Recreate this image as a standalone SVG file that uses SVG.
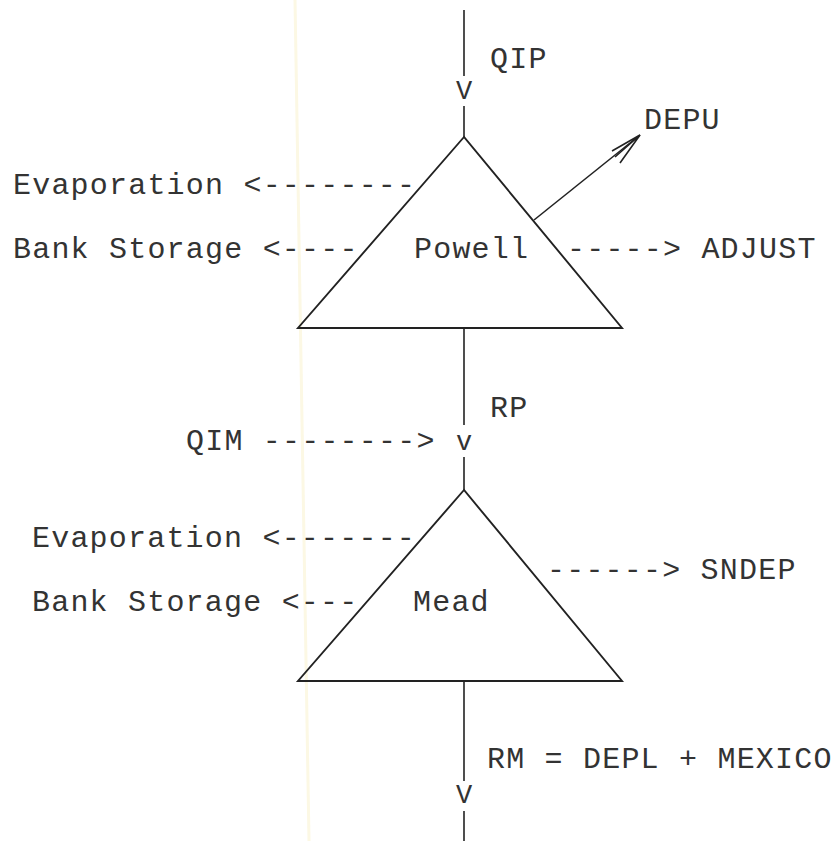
<svg xmlns="http://www.w3.org/2000/svg" width="836" height="841" viewBox="0 0 836 841">
<style>
.t{font-family:"Liberation Mono","DejaVu Sans Mono",monospace;font-size:30px;letter-spacing:1.2px;fill:#333}
.v{font-family:"Liberation Mono","DejaVu Sans Mono",monospace;font-size:27px;fill:#333;text-anchor:middle}
.ln{stroke:#222;stroke-width:1.6;fill:none}
.tri{stroke:#222;stroke-width:1.9;fill:none;stroke-linejoin:miter}
</style>
<rect width="836" height="841" fill="#fff"/>
<line x1="295" y1="0" x2="309" y2="841" stroke="#fcf8e4" stroke-width="3"/>
<g id="connectors">
<line class="ln" x1="464" y1="10" x2="464" y2="76"/>
<text class="v" x="464" y="99">V</text>
<line class="ln" x1="464" y1="106" x2="464" y2="137"/>
<line class="ln" x1="464" y1="328" x2="464" y2="425"/>
<text class="v" x="464" y="450">v</text>
<line class="ln" x1="464" y1="457" x2="464" y2="490"/>
<line class="ln" x1="464" y1="681" x2="464" y2="781"/>
<text class="v" x="464" y="803">V</text>
<line class="ln" x1="464" y1="811" x2="464" y2="841"/>
<line class="ln" x1="534" y1="220" x2="640" y2="135" stroke-width="1.8"/>
<path class="ln" d="M612 151 L640 135 L620 163 M615 157 L640 135" stroke-width="2.4" stroke-linejoin="miter"/>
</g>
<g id="powell">
<polygon class="tri" points="464,137 298,328 622,328"/>
<text class="t" x="414" y="258">Powell</text>
</g>
<g id="mead">
<polygon class="tri" points="464,490 298,681 622,681"/>
<text class="t" x="413" y="611">Mead</text>
</g>
<g id="qip"><text class="t" x="490" y="68">QIP</text></g>
<g id="depu"><text class="t" x="644" y="129">DEPU</text></g>
<g id="evap-powell"><text class="t" x="13" y="194">Evaporation &lt;--------</text></g>
<g id="bank-powell"><text class="t" x="13" y="258">Bank Storage &lt;----</text></g>
<g id="adjust"><text class="t" x="567" y="258">-----&gt; ADJUST</text></g>
<g id="rp"><text class="t" x="490" y="417">RP</text></g>
<g id="qim"><text class="t" x="186" y="450">QIM --------&gt;</text></g>
<g id="evap-mead"><text class="t" x="32" y="547">Evaporation &lt;-------</text></g>
<g id="bank-mead"><text class="t" x="32" y="611">Bank Storage &lt;---</text></g>
<g id="sndep"><text class="t" x="547" y="579">------&gt; SNDEP</text></g>
<g id="rm"><text class="t" x="487" y="768">RM = DEPL + MEXICO</text></g>
</svg>
